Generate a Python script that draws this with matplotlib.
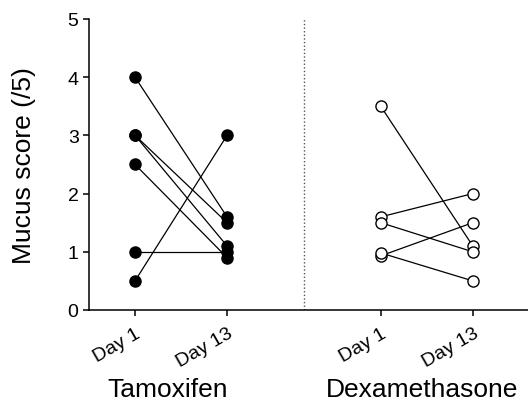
import numpy as np
import matplotlib
matplotlib.use('Agg')
from matplotlib import pyplot as plt
from matplotlib import transforms

plt.rcParams['font.family'] = ['Liberation Sans', 'DejaVu Sans']

# paired scores, Day 1 -> Day 13
tam_day1 = [4.0, 3.0, 3.0, 2.5, 1.0, 0.5]
tam_day13 = [1.6, 1.5, 1.1, 0.9, 1.0, 3.0]
dex_day1 = [3.5, 1.6, 1.5, 0.93, 0.98]
dex_day13 = [1.1, 2.0, 1.0, 1.5, 0.5]

groups = ['Tamoxifen', 'Dexamethasone']
tick_labels = ['Day 1', 'Day 13', 'Day 1', 'Day 13']
xpos = [1, 2, 3.67, 4.67]

fig = plt.figure(figsize=(5.28, 4.02), dpi=100)
ax = fig.add_axes([0.1686, 0.2264, 0.8314, 0.7239])

for a, b in zip(tam_day1, tam_day13):
    ax.plot([xpos[0], xpos[1]], [a, b], color='black', lw=0.9,
            marker='o', ms=8, mfc='black', mec='black', clip_on=False)

for a, b in zip(dex_day1, dex_day13):
    ax.plot([xpos[2], xpos[3]], [a, b], color='black', lw=0.9,
            marker='o', ms=8, mfc='white', mec='black', mew=1.0, clip_on=False)

ax.axvline(2.84, color='#555555', lw=1.0, ls=(0, (1, 1.6)))

ax.set_xlim(0.5, 5.27)
ax.set_ylim(0, 5)
ax.set_yticks([0, 1, 2, 3, 4, 5])
ax.set_xticks(xpos)
ax.set_xticklabels(tick_labels, rotation=30, ha='right', rotation_mode='anchor')

ax.spines['top'].set_visible(False)
ax.spines['right'].set_visible(False)
ax.spines['left'].set_linewidth(1.1)
ax.spines['bottom'].set_linewidth(1.1)
ax.tick_params(axis='both', length=4.5, width=1.1)
ax.tick_params(axis='x', pad=6, labelsize=14)
ax.tick_params(axis='y', pad=3, labelsize=14)

ax.set_ylabel('Mucus score (/5)', fontsize=19, labelpad=23)

trans = transforms.blended_transform_factory(ax.transData, ax.transAxes)
ax.text(1.35, -0.295, groups[0], transform=trans, ha='center', va='baseline', fontsize=19)
ax.text(4.12, -0.295, groups[1], transform=trans, ha='center', va='baseline', fontsize=19)

fig.savefig('out.png', dpi=100)
